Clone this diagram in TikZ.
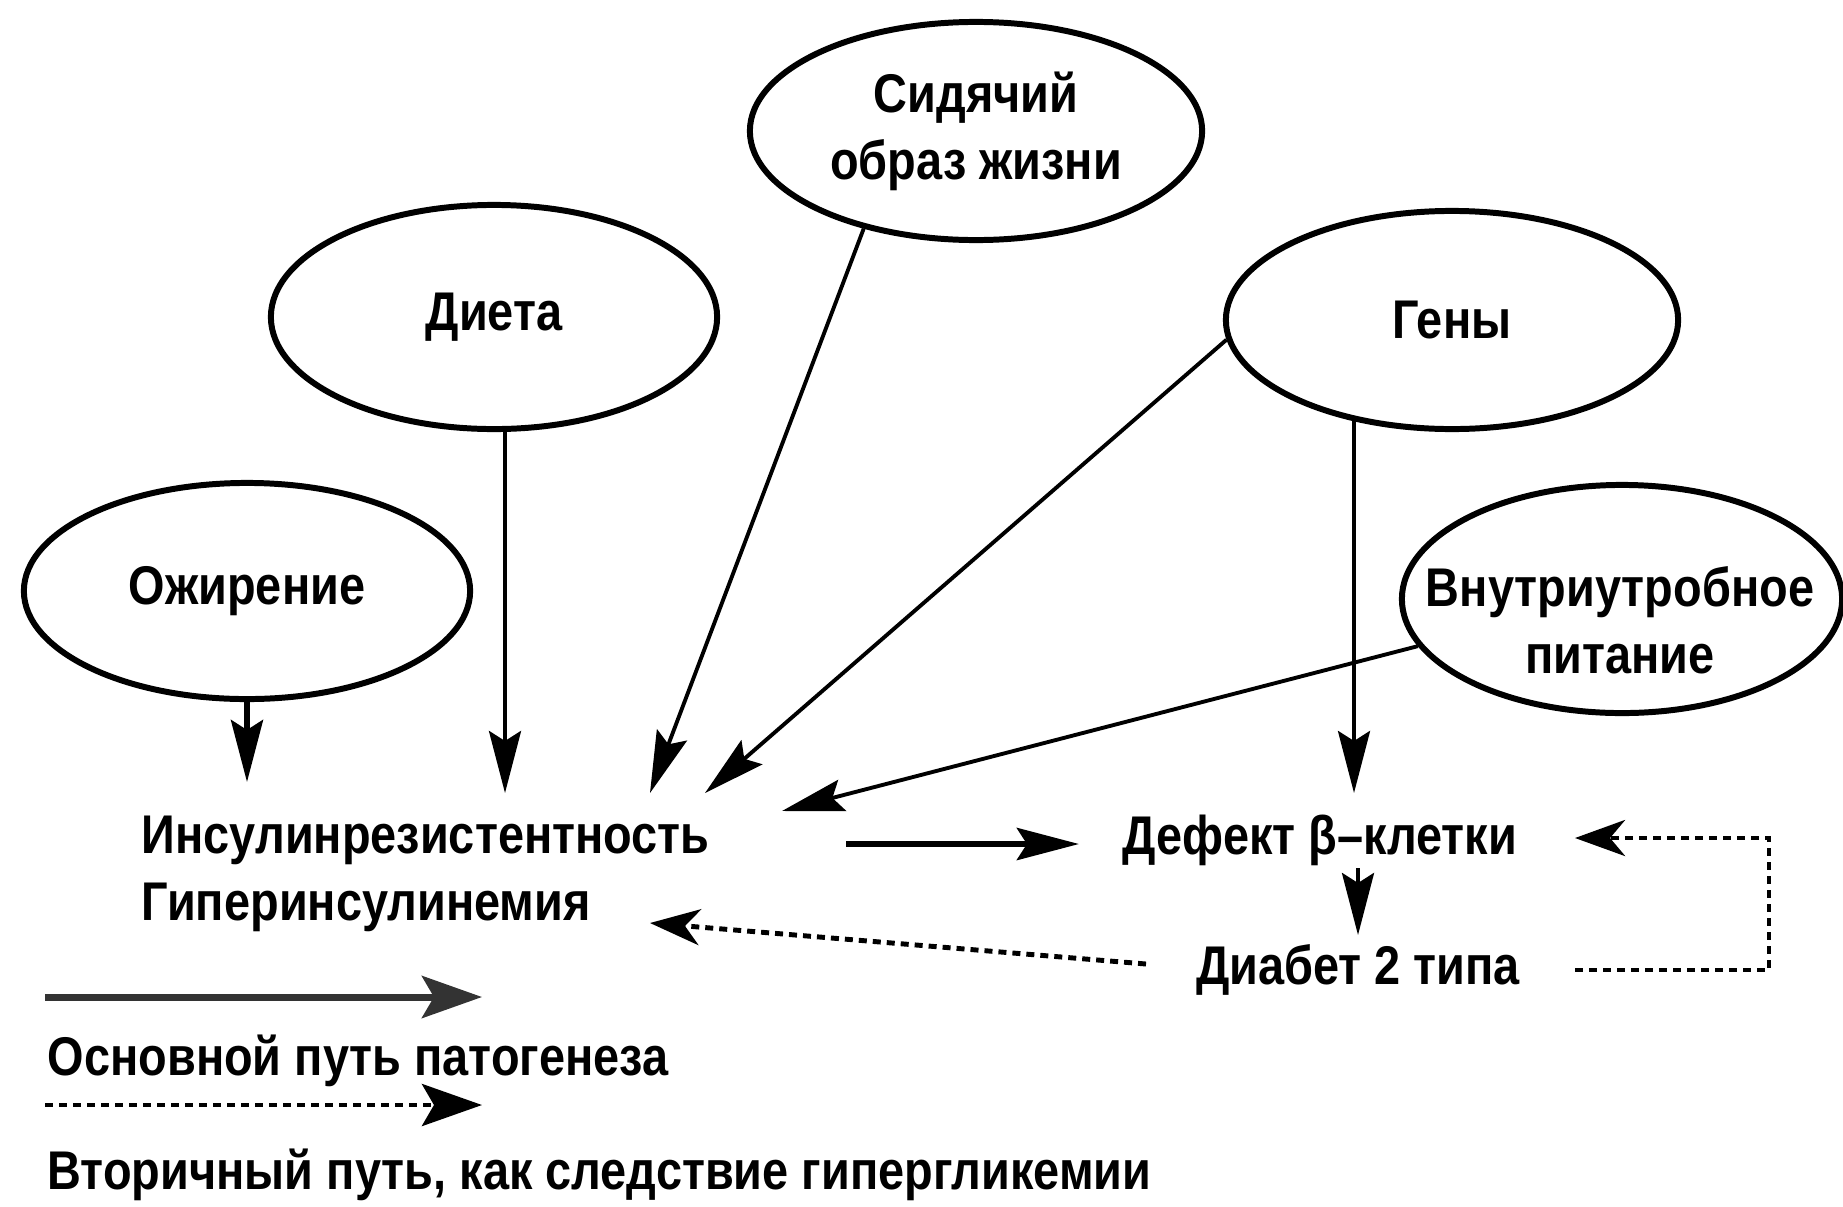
\documentclass[tikz,border=0pt]{standalone}
\usepackage{fontspec}
\setmainfont{Liberation Sans}[FakeStretch=0.86]
\usetikzlibrary{arrows.meta,shapes.geometric}
\tikzset{
  oval/.style={ellipse,draw,line width=1.7pt,inner sep=0pt,align=center,
    font=\bfseries\fontsize{15.5}{19}\selectfont},
  tekst/.style={inner sep=0pt,align=left,font=\bfseries\fontsize{15.5}{19}\selectfont},
  strelka/.style={-{Stealth[length=6.2mm,width=3.2mm,inset=1mm]},line width=1.1pt},
  punktir/.style={-{Stealth[length=5mm,width=3.6mm,inset=1.5mm]},line width=1.4pt,
    dash pattern=on 0.8mm off 0.6mm}
}

\begin{document}
\begin{tikzpicture}[x=0.01cm,y=-0.01cm]
  \useasboundingbox (0,0) rectangle (1843,1206);
  % factors
  \node[oval,minimum width=4.52cm,minimum height=2.18cm] (sid) at (976,131) {Сидячий\\образ жизни};
  \node[oval,minimum width=4.46cm,minimum height=2.24cm] (dieta) at (494,317) {Диета};
  \node[oval,minimum width=4.52cm,minimum height=2.18cm] (geny) at (1452,320) {Гены};
  \node[oval,minimum width=4.46cm,minimum height=2.16cm] (ozh) at (247,591) {Ожирение};
  \node[oval,minimum width=4.40cm,minimum height=2.28cm] (vnutr) at (1622,599) {};
  \node[tekst,align=center] (vnutrtxt) at (1620,620) {Внутриутробное\\питание};
  % outcomes
  \node[tekst,anchor=west] (ir) at (141,874) {Инсулинрезистентность\\Гиперинсулинемия};
  \node[tekst] (defekt) at (1320,840) {Дефект β–клетки};
  \node[tekst] (diabet) at (1358,970) {Диабет 2 типа};
  % arrow ends
  \coordinate (t1) at (247,782);
  \coordinate (t2) at (505,793);
  \coordinate (t3) at (650,793);
  \coordinate (t4) at (705,793);
  \coordinate (t5) at (782,811);
  \coordinate (t6) at (1354,793);
  \coordinate (p1) at (846,844);
  \coordinate (p2) at (1079,844);
  \coordinate (q1) at (1358,868);
  \coordinate (q2) at (1358,935);
  \coordinate (d1) at (1146,964);
  \coordinate (d2) at (650,923);
  \coordinate (k1) at (1575,970);
  \coordinate (k2) at (1769,838);
  \coordinate (k3) at (1575,838);
  \draw[strelka,line width=1.5pt] (ozh.south) -- (t1);
  \draw[strelka] (dieta.south -| t2) -- (t2);
  \draw[strelka] (sid.221) -- (t3);
  \draw[strelka] (geny.185) -- (t4);
  \draw[strelka] (vnutr.193) -- (t5);
  \draw[strelka] (t6 |- geny.226) -- (t6);
  \draw[strelka,line width=1.8pt] (p1) -- (p2);
  \draw[strelka] (q1) -- (q2);
  \draw[punktir] (d1) -- (d2);
  \draw[punktir] (k1) -| (k2) -- (k3);
  % legend
  \coordinate (l1a) at (45,997);
  \coordinate (l1b) at (482,997);
  \coordinate (l2a) at (45,1105);
  \coordinate (l2b) at (482,1105);
  \draw[-{Stealth[length=6mm,width=4.2mm,inset=1.2mm]},line width=2pt,black!80] (l1a) -- (l1b);
  \node[tekst,anchor=west] (osn) at (47,1061) {Основной путь патогенеза};
  \draw[punktir,-{Stealth[length=6mm,width=4.2mm,inset=1.2mm]}] (l2a) -- (l2b);
  \node[tekst,anchor=west] (vtor) at (47,1175) {Вторичный путь, как следствие гипергликемии};
\end{tikzpicture}
\end{document}
